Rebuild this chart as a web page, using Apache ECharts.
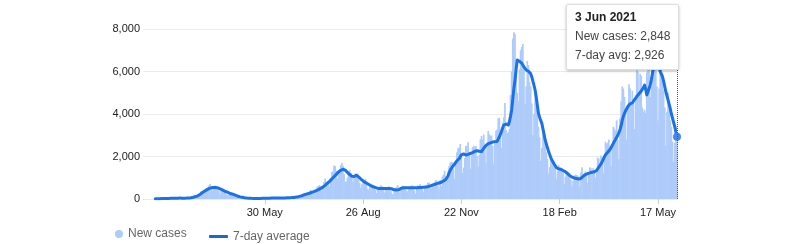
<!DOCTYPE html>
<html>
<head>
<meta charset="utf-8">
<script src="https://cdn.jsdelivr.net/npm/echarts@6/dist/echarts.min.js"></script>
<style>
html,body{margin:0;padding:0;background:#fff;}
#chart{width:800px;height:244px;}
</style>
</head>
<body>
<div id="chart"></div>
<script>
// ---- data (daily, from 22 Feb 2020 to 3 Jun 2021) ----
var startDate = '2020-02-22';
var axisMinDate = '2020-02-11';
var axisMaxDate = '2021-06-03';
var tickDates = ['2020-05-30','2020-08-26','2020-11-22','2021-02-18','2021-05-17'];
var tickLabels = ['30 May','26 Aug','22 Nov','18 Feb','17 May'];
var yTicks = [0, 2000, 4000, 6000, 8000];
var seriesNames = ['New cases', '7-day average'];

var newCases = [
14,10,8,15,18,22,20,
18,14,10,22,33,36,40,
44,30,22,40,50,52,48,
60,35,20,38,44,42,46,
54,40,35,60,90,98,120,
200,170,90,190,250,270,350,
360,380,260,350,500,540,640,
710,480,380,470,550,590,560,
590,360,220,380,440,430,430,
350,200,170,240,290,210,200,
280,180,90,90,120,100,90,
110,40,60,60,55,45,60,
20,15,30,25,20,30,30,
25,15,20,40,40,40,45,
30,25,35,50,40,50,45,
40,35,30,45,50,45,50,
55,45,40,60,50,55,60,
60,45,50,60,100,100,110,
120,110,90,120,170,200,250,
270,200,190,250,300,350,430,
390,280,250,360,420,590,600,
660,510,400,630,800,970,780,
840,800,600,990,1260,1300,1580,
1540,1330,960,1240,1340,1590,1700,
1560,1160,820,820,1000,1170,1360,
1230,1000,800,1000,1200,1180,1200,
900,750,500,700,800,850,950,
760,480,440,600,640,580,620,
510,420,280,470,550,580,650,
600,420,300,480,540,560,600,
480,360,250,210,460,520,570,
650,400,280,500,620,560,600,
530,380,360,520,540,620,640,
590,390,240,560,640,580,700,
620,440,320,610,650,650,760,
780,530,490,720,700,800,880,
870,620,480,900,600,1060,1150,
1330,1050,850,1300,1550,1700,1750,
1730,1440,950,1700,2200,2390,2420,
2590,2160,1220,1480,1930,2500,2510,
2670,2060,1430,2040,2430,2510,2440,
2500,2030,1530,2080,2810,2970,2790,
3040,2400,1680,2430,3200,3040,2980,
2990,2510,1670,2670,3210,3270,3800,
3820,2960,2390,3600,3850,4520,3250,
3100,3150,3300,4900,6000,7550,7850,
7770,6450,5000,4600,6100,7000,7150,
7300,6200,4500,5300,6500,6300,5500,
5300,4500,3000,4000,5100,4700,4200,
3400,2900,1800,2400,3100,3000,2860,
2200,1900,1200,1500,1900,1750,1800,
1750,1450,950,1300,1600,1450,1440,
1350,1250,700,1050,1250,1200,1250,
1050,900,600,850,1100,1150,1140,
1100,1050,600,1250,1500,1100,1100,
1300,1150,750,1250,1500,1450,1350,
1450,1250,1000,1400,1950,1900,1550,
2050,1800,1200,2050,2700,2600,2650,
2800,2400,1550,2600,3400,3300,3200,
3700,2800,1900,3800,4600,5300,5200,
4800,4100,2800,4300,5400,5200,4550,
5100,4500,3300,4900,6200,6000,5000,
5900,5800,4300,4100,4200,4050,5950,
7000,6500,4800,5300,7100,7000,6050,
6700,5300,3700,5200,6200,6300,5900,
5100,4300,2500,4100,5000,4300,3700,
3400,2700,1750,2650,3400,2848
];

var avg7 = [
12,13,14,15,16,17,18,
19,20,21,23,25,27,29,
31,33,35,37,38,40,41,
42,42,41,41,40,40,41,
43,46,50,56,63,72,82,
95,110,128,150,180,215,255,
295,330,365,400,430,460,490,
510,525,535,545,550,548,540,
525,505,480,455,430,400,375,
350,330,305,285,265,245,230,
215,195,175,150,130,115,100,
90,80,70,62,55,48,42,
38,34,31,29,28,27,26,
26,27,28,29,30,31,32,
33,34,35,36,38,40,42,
43,44,45,45,46,46,47,
48,49,50,51,52,53,55,
57,60,63,66,70,75,82,
90,100,110,120,135,150,170,
190,210,225,240,255,270,290,
310,330,350,370,390,415,440,
470,500,530,560,600,640,690,
740,790,830,880,940,1000,1050,
1100,1160,1220,1270,1310,1350,1390,
1400,1390,1360,1310,1250,1200,1150,
1100,1070,1050,1060,1110,1120,1090,
1040,990,940,890,850,810,780,
750,720,690,660,630,600,580,
560,540,520,505,500,500,500,
500,500,500,500,500,500,500,
500,490,470,450,430,420,420,
420,440,470,500,520,530,530,
530,530,530,530,530,530,530,
530,530,530,535,535,540,540,
545,550,555,560,565,570,580,
590,610,630,650,670,690,705,
720,740,755,770,790,820,850,
880,920,970,1080,1220,1360,1450,
1520,1580,1650,1730,1800,1840,1900,
1980,2080,2150,2120,2090,2070,2080,
2100,2120,2140,2160,2180,2210,2240,
2270,2270,2260,2250,2240,2230,2300,
2390,2460,2520,2570,2600,2620,2640,
2660,2680,2690,2700,2700,2710,2760,
2930,3050,3200,3350,3480,3560,3530,
3500,3480,3650,3900,4190,4700,5200,
5600,6100,6540,6520,6480,6440,6390,
6300,6220,6150,6070,6040,6010,5990,
5900,5750,5550,5350,5130,4800,4400,
4030,3850,3700,3560,3300,3050,2780,
2600,2420,2250,2100,1950,1840,1750,
1650,1560,1480,1440,1420,1410,1400,
1370,1340,1310,1290,1250,1200,1150,
1100,1060,1030,1010,990,975,965,
950,940,945,970,1020,1070,1110,
1150,1170,1190,1210,1230,1250,1260,
1270,1280,1290,1340,1420,1500,1580,
1650,1750,1870,1980,2080,2150,2200,
2250,2330,2420,2520,2620,2720,2800,
2900,3000,3090,3250,3450,3700,3900,
4030,4150,4250,4350,4430,4480,4500,
4520,4600,4680,4760,4820,4880,4950,
5020,5080,5130,5250,5360,5150,4900,
5050,5200,5360,5600,5900,6230,6300,
6360,6390,6300,6150,6000,5880,5760,
5550,5300,5050,4850,4660,4450,4250,
4000,3800,3600,3400,3150,2926
];

// ---- helpers ----
var MONTHS = ['Jan','Feb','Mar','Apr','May','Jun','Jul','Aug','Sep','Oct','Nov','Dec'];
function toTs(s){ var p = s.split('-'); return new Date(+p[0], +p[1]-1, +p[2]).getTime(); }
function fmtNum(v){ return Number(v).toLocaleString('en-US'); }
function fmtDate(ts){ var d = new Date(ts); return d.getDate() + ' ' + MONTHS[d.getMonth()] + ' ' + d.getFullYear(); }

var start = toTs(startDate);
var dates = [];
for (var i = 0; i < newCases.length; i++) {
  var d = new Date(start); d.setDate(d.getDate() + i); dates.push(d.getTime());
}
var tickTs = tickDates.map(toTs);
var barData = dates.map(function(t, i){ return [t, newCases[i]]; });
var lineData = dates.map(function(t, i){ return [t, avg7[i]]; });

var FONT = 'Liberation Sans, Arial, sans-serif';
var chart = echarts.init(document.getElementById('chart'), null, {renderer: 'canvas'});

chart.setOption({
  animation: false,
  grid: { left: 143, right: 123, top: 29, bottom: 45 },
  xAxis: {
    type: 'value',
    min: toTs(axisMinDate),
    max: toTs(axisMaxDate),
    axisLine: { show: false },
    splitLine: { show: false },
    axisTick: { show: true, customValues: tickTs, length: 5, lineStyle: { color: '#cccccc' } },
    axisLabel: {
      customValues: tickTs,
      margin: 8,
      fontFamily: FONT, fontSize: 11, color: '#222222',
      formatter: function(v){ var k = tickTs.indexOf(v); return k >= 0 ? tickLabels[k] : ''; }
    }
  },
  yAxis: {
    type: 'value',
    min: yTicks[0], max: yTicks[yTicks.length-1], interval: yTicks[1]-yTicks[0],
    axisLine: { show: false }, axisTick: { show: false },
    splitLine: { lineStyle: { color: '#ebebeb', width: 1 } },
    axisLabel: { margin: 3, fontFamily: FONT, fontSize: 11, color: '#222222', formatter: fmtNum }
  },
  legend: [
    { data: [{ name: seriesNames[0], icon: 'circle' }], left: 115, top: 228, padding: 0,
      itemWidth: 8, itemHeight: 8, textStyle: { fontFamily: FONT, fontSize: 12, color: '#666666' }, selectedMode: false },
    { data: [{ name: seriesNames[1], icon: 'roundRect', itemStyle: { color: '#1967d2' } }], left: 209, top: 230.5, padding: 0,
      itemWidth: 19, itemHeight: 3, textStyle: { fontFamily: FONT, fontSize: 12, color: '#666666' }, selectedMode: false }
  ],
  tooltip: {
    trigger: 'axis',
    triggerOn: 'none',
    alwaysShowContent: true,
    position: [566, 4],
    backgroundColor: '#ffffff',
    borderColor: '#dddddd',
    borderWidth: 1,
    padding: [3, 8, 4, 8],
    extraCssText: 'box-shadow: 0 1px 3px rgba(0,0,0,0.25); border-radius: 2px;',
    textStyle: { fontFamily: FONT, fontSize: 12, color: '#444444' },
    axisPointer: { type: 'line', lineStyle: { type: 'dotted', color: '#555555', width: 1 }, label: { show: false } },
    formatter: function(params){
      var ts = params[0].value[0];
      var nc = '', av = '';
      params.forEach(function(p){ if (p.seriesIndex === 0) nc = fmtNum(p.value[1]); else av = fmtNum(p.value[1]); });
      return '<div style="line-height:19px;font-family:' + FONT + ';font-size:12px;">' +
        '<div style="font-weight:bold;color:#222;">' + fmtDate(ts) + '</div>' +
        '<div style="color:#444;">New cases: ' + nc + '</div>' +
        '<div style="color:#444;">7-day avg: ' + av + '</div></div>';
    }
  },
  series: [
    {
      name: seriesNames[0], type: 'bar', data: barData,
      barWidth: 1.7,
      itemStyle: { color: '#aecbfa' },
      emphasis: { disabled: true }
    },
    {
      name: seriesNames[1], type: 'line', data: lineData,
      showSymbol: false, symbol: 'circle', symbolSize: 8,
      lineStyle: { color: '#1967d2', width: 3, cap: 'round', join: 'round' },
      itemStyle: { color: '#1967d2' },
      emphasis: { scale: false, lineStyle: { width: 3 }, itemStyle: { color: '#4285f4', borderWidth: 0 } },
      z: 3
    }
  ]
});

chart.dispatchAction({ type: 'showTip', seriesIndex: 1, dataIndex: avg7.length - 1 });
</script>
</body>
</html>
